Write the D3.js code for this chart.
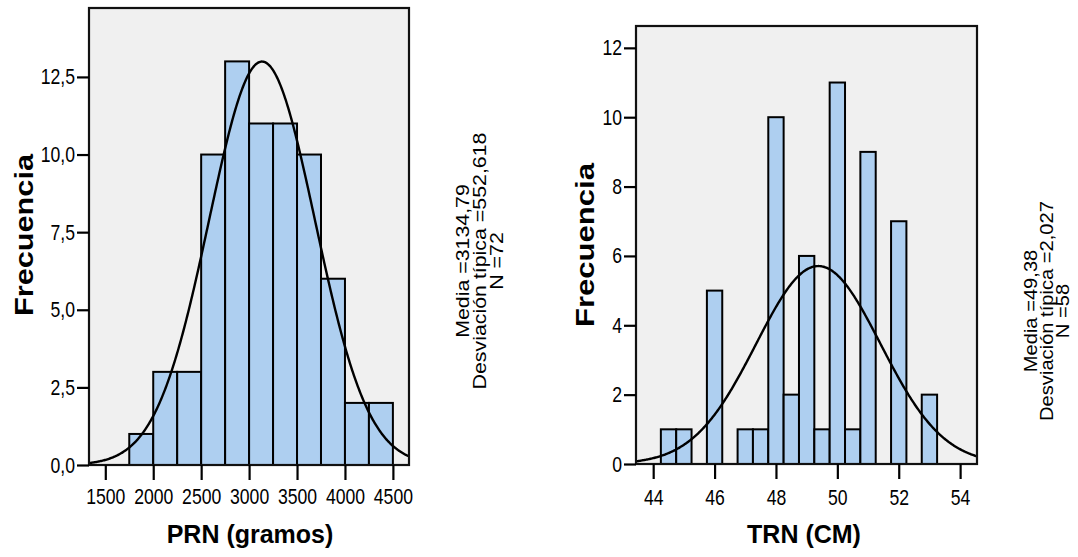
<!DOCTYPE html>
<html><head><meta charset="utf-8">
<script src="https://cdn.jsdelivr.net/npm/d3@7"></script>
<style>
html,body{margin:0;padding:0;background:#fff;}
svg{display:block;}
.tick text{font-family:"Liberation Sans",Arial,sans-serif;font-size:22px;fill:#000;}
.title{font-family:"Liberation Sans",Arial,sans-serif;font-weight:bold;font-size:25px;fill:#000;}
.stats{font-family:"Liberation Sans",Arial,sans-serif;fill:#000;}
</style></head>
<body>
<svg id="chart" width="1078" height="557"></svg>
<script>
// ---- Data: PRN (gramos) ----
const prnBinStart = [1750, 2000, 2250, 2500, 2750, 3000, 3250, 3500, 3750, 4000, 4250];
const prnCounts   = [1, 3, 3, 10, 13, 11, 11, 10, 6, 2, 2];
const prnBinWidth = 250;
const prnXTicks   = [1500, 2000, 2500, 3000, 3500, 4000, 4500];
const prnYTicks   = [0, 2.5, 5, 7.5, 10, 12.5];
const prnStats    = {mean: 3134.79, sd: 552.618, n: 72};
const prnLabels   = ["Media =3134,79", "Desviación típica =552,618", "N =72"];

// ---- Data: TRN (CM) ----
const trnBinStart = [44.25, 44.75, 45.75, 46.75, 47.25, 47.75, 48.25, 48.75, 49.25, 49.75, 50.25, 50.75, 51.75, 52.75];
const trnCounts   = [1, 1, 5, 1, 1, 10, 2, 6, 1, 11, 1, 9, 7, 2];
const trnBinWidth = 0.5;
const trnXTicks   = [44, 46, 48, 50, 52, 54];
const trnYTicks   = [0, 2, 4, 6, 8, 10, 12];
const trnStats    = {mean: 49.38, sd: 2.027, n: 58};
const trnLabels   = ["Media =49,38", "Desviación típica =2,027", "N =58"];

const svg = d3.select("#chart");
const commaFmt = d => d3.format(".1f")(d).replace(".", ",");
const NARROW = 0.8;

function drawHist(cfg) {
  const x = d3.scaleLinear().domain(cfg.xDomain).range([cfg.left, cfg.right]);
  const y = d3.scaleLinear().domain(cfg.yDomain).range([cfg.bottom, cfg.top]);
  const g = svg.append("g");
  const clipId = "clip" + cfg.id;
  svg.append("clipPath").attr("id", clipId).append("rect")
    .attr("x", cfg.left).attr("y", cfg.top)
    .attr("width", cfg.right - cfg.left).attr("height", cfg.bottom - cfg.top);

  g.append("rect").attr("x", cfg.left).attr("y", cfg.top)
    .attr("width", cfg.right - cfg.left).attr("height", cfg.bottom - cfg.top)
    .attr("fill", "#f0f0f0");

  const bars = cfg.starts.map((s, i) => ({x0: s, x1: s + cfg.binWidth, c: cfg.counts[i]}));
  g.append("g").selectAll("rect").data(bars).join("rect")
    .attr("x", d => x(d.x0)).attr("width", d => x(d.x1) - x(d.x0))
    .attr("y", d => y(d.c)).attr("height", d => y(0) - y(d.c))
    .attr("fill", "#aecff0").attr("stroke", "#000").attr("stroke-width", 2);

  const s = cfg.stats;
  const k = s.n * cfg.binWidth / (s.sd * Math.sqrt(2 * Math.PI));
  const pts = d3.range(0, 401).map(i => {
    const xv = cfg.xDomain[0] + (cfg.xDomain[1] - cfg.xDomain[0]) * i / 400;
    return [xv, k * Math.exp(-0.5 * Math.pow((xv - s.mean) / s.sd, 2))];
  });
  g.append("path").datum(pts)
    .attr("d", d3.line().x(d => x(d[0])).y(d => y(d[1])))
    .attr("fill", "none").attr("stroke", "#000").attr("stroke-width", 2.4)
    .attr("clip-path", `url(#${clipId})`);

  g.append("rect").attr("x", cfg.left).attr("y", cfg.top)
    .attr("width", cfg.right - cfg.left).attr("height", cfg.bottom - cfg.top)
    .attr("fill", "none").attr("stroke", "#111").attr("stroke-width", 2.2);

  const yAxis = g.append("g").attr("transform", `translate(${cfg.left},0)`)
    .call(d3.axisLeft(y).tickValues(cfg.yTicks).tickFormat(cfg.yFmt).tickSize(12).tickPadding(2));
  const xAxis = g.append("g").attr("transform", `translate(0,${cfg.bottom})`)
    .call(d3.axisBottom(x).tickValues(cfg.xTicks).tickFormat(d3.format("d")).tickSize(15).tickPadding(cfg.xPad));
  [yAxis, xAxis].forEach(a => {
    a.select(".domain").remove();
    a.selectAll(".tick line").attr("stroke", "#000").attr("stroke-width", 2.2);
    a.selectAll(".tick text").attr("transform", `scale(${NARROW},1)`);
  });
  yAxis.selectAll(".tick text").attr("x", -14 / NARROW);

  g.append("text").attr("class", "title")
    .attr("x", cfg.xTitleX).attr("y", cfg.xTitleY).attr("text-anchor", "middle")
    .text(cfg.xTitle);
  g.append("text").attr("class", "title")
    .attr("transform", `translate(${cfg.yTitleX},${cfg.yTitleY}) rotate(-90)`)
    .attr("text-anchor", "middle").attr("dy", "0.35em")
    .attr("textLength", cfg.yTitleLen).attr("lengthAdjust", "spacingAndGlyphs")
    .text("Frecuencia");

  const st = g.append("text").attr("class", "stats")
    .attr("text-anchor", "middle").style("font-size", cfg.statsSize + "px");
  const spans = cfg.labels.map((t, i) =>
    st.append("tspan").attr("x", 0).attr("y", i * cfg.statsGap).text(t));
  const longest = d3.max(spans, sp => sp.node().getComputedTextLength());
  const sx = cfg.statsLen / longest;
  st.attr("transform", `translate(${cfg.statsX},${cfg.statsY}) rotate(-90) scale(${sx},1)`);
}

drawHist({
  id: "a", starts: prnBinStart, counts: prnCounts, binWidth: prnBinWidth,
  xDomain: [1330, 4668], yDomain: [0, 14.72],
  left: 89, right: 409, top: 8, bottom: 465, xPad: 8,
  xTicks: prnXTicks, yTicks: prnYTicks, yFmt: commaFmt,
  stats: prnStats, labels: prnLabels,
  xTitle: "PRN (gramos)", xTitleX: 250, xTitleY: 543,
  yTitleX: 24, yTitleY: 235, yTitleLen: 162,
  statsX: 469, statsY: 261, statsGap: 17, statsSize: 18.5, statsLen: 257
});

drawHist({
  id: "b", starts: trnBinStart, counts: trnCounts, binWidth: trnBinWidth,
  xDomain: [43.44, 54.55], yDomain: [0, 12.63],
  left: 636, right: 977, top: 26, bottom: 464, xPad: 10,
  xTicks: trnXTicks, yTicks: trnYTicks, yFmt: d3.format("d"),
  stats: trnStats, labels: trnLabels,
  xTitle: "TRN (CM)", xTitleX: 804, xTitleY: 543,
  yTitleX: 585, yTitleY: 245, yTitleLen: 164,
  statsX: 1037, statsY: 311, statsGap: 16, statsSize: 18.5, statsLen: 220
});
</script>
</body></html>
